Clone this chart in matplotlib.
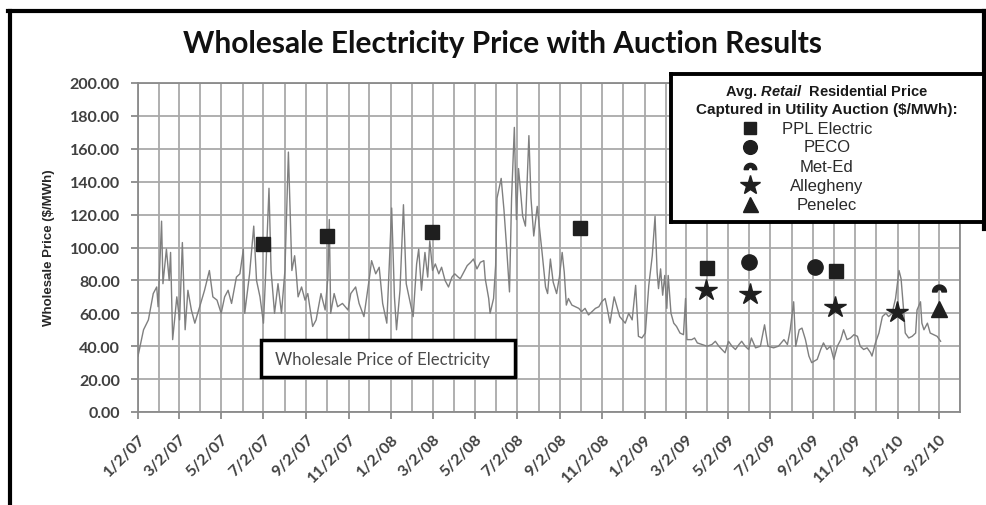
import numpy as np
import pandas as pd
import matplotlib
matplotlib.use("Agg")
import matplotlib.pyplot as plt
import matplotlib.dates as mdates
from matplotlib.patches import Rectangle
from matplotlib.lines import Line2D
from matplotlib.path import Path

plt.rcParams["mathtext.fontset"] = "custom"
plt.rcParams["mathtext.it"] = "Liberation Sans:italic:bold"
plt.rcParams["mathtext.rm"] = "Liberation Sans:bold"

# ---------------------------------------------------------------
# Wholesale electricity price ($/MWh)
# ---------------------------------------------------------------
wholesale_2007 = [
    ("2007-01-02", 34), ("2007-01-10", 50), ("2007-01-17", 56), ("2007-01-24", 72),
    ("2007-01-29", 76), ("2007-01-31", 64), ("2007-02-05", 116), ("2007-02-07", 78),
    ("2007-02-12", 99), ("2007-02-16", 80), ("2007-02-18", 97), ("2007-02-21", 44),
    ("2007-02-27", 70), ("2007-03-03", 56), ("2007-03-07", 103), ("2007-03-11", 50),
    ("2007-03-15", 74), ("2007-03-20", 62), ("2007-03-25", 54), ("2007-04-01", 64),
    ("2007-04-08", 74), ("2007-04-15", 86), ("2007-04-20", 70), ("2007-04-26", 68),
    ("2007-05-02", 60), ("2007-05-07", 70), ("2007-05-12", 74), ("2007-05-17", 66),
    ("2007-05-24", 82), ("2007-05-29", 84), ("2007-06-03", 99), ("2007-06-05", 60),
    ("2007-06-12", 84), ("2007-06-18", 113), ("2007-06-22", 80), ("2007-06-27", 70),
    ("2007-07-02", 54), ("2007-07-05", 82), ("2007-07-10", 136), ("2007-07-13", 86),
    ("2007-07-18", 60), ("2007-07-23", 78), ("2007-07-28", 60), ("2007-08-02", 86),
    ("2007-08-07", 158), ("2007-08-12", 86), ("2007-08-16", 95), ("2007-08-18", 86),
    ("2007-08-21", 70), ("2007-08-26", 76), ("2007-08-31", 68), ("2007-09-04", 72),
    ("2007-09-11", 52), ("2007-09-16", 56), ("2007-09-23", 72), ("2007-09-29", 62),
    ("2007-10-03", 82), ("2007-10-05", 117), ("2007-10-07", 60), ("2007-10-12", 72),
    ("2007-10-17", 64), ("2007-10-24", 66), ("2007-11-01", 62), ("2007-11-05", 72),
    ("2007-11-12", 76), ("2007-11-17", 66), ("2007-11-24", 58), ("2007-12-02", 82),
    ("2007-12-05", 92), ("2007-12-11", 84), ("2007-12-16", 88), ("2007-12-21", 66),
    ("2007-12-27", 54),
]
wholesale_2008 = [
    ("2008-01-03", 124), ("2008-01-07", 70), ("2008-01-10", 50), ("2008-01-15", 74),
    ("2008-01-20", 126), ("2008-01-24", 78), ("2008-01-30", 66), ("2008-02-03", 58),
    ("2008-02-08", 90), ("2008-02-11", 99), ("2008-02-15", 74), ("2008-02-20", 97),
    ("2008-02-24", 82), ("2008-02-27", 104), ("2008-03-02", 86), ("2008-03-06", 90),
    ("2008-03-11", 84), ("2008-03-15", 88), ("2008-03-20", 80), ("2008-03-25", 76),
    ("2008-03-30", 82), ("2008-04-03", 84), ("2008-04-08", 82), ("2008-04-11", 81),
    ("2008-04-16", 85), ("2008-04-21", 89), ("2008-04-26", 91), ("2008-04-30", 93),
    ("2008-05-05", 87), ("2008-05-10", 91), ("2008-05-15", 92), ("2008-05-17", 81),
    ("2008-05-22", 69), ("2008-05-24", 60), ("2008-05-29", 69), ("2008-06-01", 89),
    ("2008-06-03", 130), ("2008-06-09", 142), ("2008-06-13", 123), ("2008-06-17", 99),
    ("2008-06-21", 73), ("2008-06-24", 130), ("2008-06-28", 173), ("2008-07-01", 117),
    ("2008-07-04", 148), ("2008-07-07", 134), ("2008-07-10", 119), ("2008-07-14", 113),
    ("2008-07-19", 168), ("2008-07-22", 130), ("2008-07-26", 107), ("2008-07-31", 125),
    ("2008-08-04", 109), ("2008-08-07", 97), ("2008-08-12", 76), ("2008-08-15", 72),
    ("2008-08-19", 93), ("2008-08-23", 79), ("2008-08-28", 72), ("2008-09-01", 82),
    ("2008-09-05", 97), ("2008-09-08", 85), ("2008-09-11", 65), ("2008-09-14", 69),
    ("2008-09-19", 65), ("2008-09-24", 64), ("2008-09-29", 63), ("2008-10-03", 61),
    ("2008-10-08", 63), ("2008-10-13", 59), ("2008-10-18", 61), ("2008-10-23", 63),
    ("2008-10-28", 64), ("2008-11-01", 67), ("2008-11-06", 69), ("2008-11-09", 63),
    ("2008-11-13", 54), ("2008-11-19", 70), ("2008-11-27", 58), ("2008-12-05", 54),
    ("2008-12-10", 60), ("2008-12-15", 56), ("2008-12-20", 77), ("2008-12-24", 46),
    ("2008-12-29", 45),
]
wholesale_2009 = [
    ("2009-01-03", 48), ("2009-01-08", 77), ("2009-01-13", 95), ("2009-01-17", 119),
    ("2009-01-20", 85), ("2009-01-22", 75), ("2009-01-25", 87), ("2009-01-28", 71),
    ("2009-01-31", 83), ("2009-02-03", 63), ("2009-02-05", 83), ("2009-02-09", 60),
    ("2009-02-13", 54), ("2009-02-17", 52), ("2009-02-22", 48), ("2009-02-27", 47),
    ("2009-03-02", 69), ("2009-03-04", 44), ("2009-03-11", 44), ("2009-03-15", 45),
    ("2009-03-19", 42), ("2009-03-26", 41), ("2009-04-02", 40), ("2009-04-09", 41),
    ("2009-04-14", 43), ("2009-04-19", 40), ("2009-04-28", 36), ("2009-05-03", 43),
    ("2009-05-08", 40), ("2009-05-13", 38), ("2009-05-18", 41), ("2009-05-22", 43),
    ("2009-05-27", 40), ("2009-06-01", 38), ("2009-06-05", 45), ("2009-06-11", 39),
    ("2009-06-18", 40), ("2009-06-24", 53), ("2009-06-29", 40), ("2009-07-07", 39),
    ("2009-07-14", 40), ("2009-07-22", 44), ("2009-07-27", 41), ("2009-07-31", 50),
    ("2009-08-05", 67), ("2009-08-08", 40), ("2009-08-13", 50), ("2009-08-17", 51),
    ("2009-08-22", 44), ("2009-08-27", 34), ("2009-08-31", 30), ("2009-09-08", 32),
    ("2009-09-13", 38), ("2009-09-17", 42), ("2009-09-22", 38), ("2009-09-27", 40),
    ("2009-10-02", 32), ("2009-10-07", 40), ("2009-10-12", 44), ("2009-10-16", 50),
    ("2009-10-21", 44), ("2009-10-26", 45), ("2009-10-31", 47), ("2009-11-05", 46),
    ("2009-11-09", 40), ("2009-11-14", 38), ("2009-11-19", 39), ("2009-11-24", 36),
    ("2009-11-26", 34), ("2009-12-01", 42), ("2009-12-06", 48), ("2009-12-11", 58),
    ("2009-12-16", 60), ("2009-12-20", 58), ("2009-12-25", 60), ("2009-12-30", 69),
]
wholesale_2010 = [
    ("2010-01-04", 86), ("2010-01-07", 81), ("2010-01-11", 60), ("2010-01-13", 48),
    ("2010-01-18", 45), ("2010-01-23", 46), ("2010-01-28", 48), ("2010-01-30", 62),
    ("2010-02-04", 67), ("2010-02-06", 54), ("2010-02-09", 50), ("2010-02-14", 54),
    ("2010-02-18", 48), ("2010-02-23", 47), ("2010-02-28", 46), ("2010-03-05", 43),
]

# ---------------------------------------------------------------
# Utility auction results: avg. retail residential price ($/MWh)
# ---------------------------------------------------------------
ppl_dates = ["2007-07-02", "2007-10-02", "2008-03-01", "2008-10-01", "2009-04-02", "2009-10-05"]
ppl_prices = [102, 107, 109.5, 112, 87.5, 85.5]
peco_dates = ["2009-06-02", "2009-09-05"]
peco_prices = [91, 88]
meted_dates = ["2010-03-02"]
meted_prices = [75.5]
allegheny_dates = ["2009-04-01", "2009-06-03", "2009-10-04", "2010-01-01"]
allegheny_prices = [74, 72, 64, 61]
penelec_dates = ["2010-03-02"]
penelec_prices = [62.5]

legend_names = ["PPL Electric", "PECO", "Met-Ed", "Allegheny", "Penelec"]
y_ticks = [0, 20, 40, 60, 80, 100, 120, 140, 160, 180, 200]

# ---------------------------------------------------------------
W, H = 987, 506
fig = plt.figure(figsize=(W / 100, H / 100), dpi=100)
fig.patch.set_facecolor("white")

# Met-Ed dome marker (thick upper arch)
th = np.linspace(0, np.pi, 24)
outer = np.column_stack([np.cos(th), np.sin(th)])
inner = 0.35 * outer[::-1]
dome = np.vstack([outer, inner, outer[:1]])
dome[:, 1] -= 0.5
dome_marker = Path(dome, closed=True)

mark_style = {
    "PPL Electric": dict(marker="s", ms=10),
    "PECO": dict(marker="o", ms=11),
    "Met-Ed": dict(marker=dome_marker, ms=10),
    "Allegheny": dict(marker="*", ms=16),
    "Penelec": dict(marker="^", ms=12),
}
MK = "#1f1f1f"

ax = fig.add_axes([138 / W, 1 - 413 / H, (960 - 138) / W, (413 - 84) / H])

series = pd.DataFrame(wholesale_2007 + wholesale_2008 + wholesale_2009 + wholesale_2010,
                      columns=["date", "price"])
series["date"] = pd.to_datetime(series["date"])
ax.plot(series["date"], series["price"], color="#7f7f7f", lw=1.0, zorder=3)

auctions = [
    ("PPL Electric", ppl_dates, ppl_prices),
    ("PECO", peco_dates, peco_prices),
    ("Met-Ed", meted_dates, meted_prices),
    ("Allegheny", allegheny_dates, allegheny_prices),
    ("Penelec", penelec_dates, penelec_prices),
]
for name, d, p in auctions:
    st = mark_style[name]
    ax.plot(pd.to_datetime(d), p, ls="none", marker=st["marker"], ms=st["ms"],
            color=MK, mec=MK, mew=1, zorder=6)

ax.set_xlim(pd.Timestamp("2007-01-02"), pd.Timestamp("2010-04-02"))
ax.set_ylim(0, 200)
ax.set_yticks(y_ticks)
ax.yaxis.set_major_formatter(plt.FuncFormatter(lambda v, _: f"{v:.2f}"))

ax.xaxis.set_major_locator(mdates.MonthLocator(bymonth=[1, 3, 5, 7, 9, 11], bymonthday=2))
ax.xaxis.set_minor_locator(mdates.MonthLocator(bymonthday=2))
ax.xaxis.set_major_formatter(plt.FuncFormatter(
    lambda v, _: (lambda d: f"{d.month}/{d.day}/{d:%y}")(mdates.num2date(v))))

grid_c = "#a9a9a9"
ax.grid(True, which="both", color=grid_c, lw=1.3, zorder=1)
ax.set_axisbelow(True)
for s in ax.spines.values():
    s.set_color("#8a8a8a")
    s.set_linewidth(1.3)

ax.tick_params(axis="x", which="major", length=5, width=1.2, color="#808080", pad=9)
ax.tick_params(axis="x", which="minor", length=0)
ax.tick_params(axis="y", length=5, width=1.2, color="#808080", pad=8)
tick_font = dict(family="Lato", weight="bold", size=11.5)
for lab in ax.get_yticklabels():
    lab.set_fontproperties(tick_font)
    lab.set_color("#404040")
for lab in ax.get_xticklabels():
    lab.set_fontproperties(tick_font)
    lab.set_color("#404040")
    lab.set_rotation(45)
    lab.set_ha("right")
    lab.set_rotation_mode("anchor")

ax.set_ylabel("Wholesale Price ($/MWh)", family="Liberation Sans", weight="bold",
              size=9.5, color="#262626")
ax.yaxis.set_label_coords((55 - 138) / (960 - 138), (413 - 248) / (413 - 84))

# title
fig.text(503 / W, 1 - 44 / H, "Wholesale Electricity Price with Auction Results",
         family="Lato", weight="bold", size=21.5, color="#111111", ha="center", va="center")

# series label box
fig.add_artist(Rectangle((261 / W, 1 - 378 / H), (515 - 261) / W, (378 - 341) / H,
                         transform=fig.transFigure, facecolor="white", edgecolor="black",
                         lw=2.5, zorder=5))
fig.text(275 / W, 1 - 360 / H, "Wholesale Price of Electricity", family="Lato",
         size=12, color="#4a4a4a", ha="left", va="center", zorder=6)

# auction legend box
lg = fig.add_axes([671 / W, 1 - 223 / H, (984 - 671) / W, (223 - 75) / H], zorder=5)
lg.set_xlim(671, 984)
lg.set_ylim(223, 75)
lg.set_xticks([])
lg.set_yticks([])
for s in lg.spines.values():
    s.set_linewidth(2.8)
    s.set_color("black")
lg.text(827, 92, "Avg. $\\mathit{Retail}$  Residential Price", ha="center", va="center",
        family="Liberation Sans", weight="bold", size=10.5, color="#1a1a1a")
lg.text(827, 110, "Captured in Utility Auction ($/MWh):", ha="center", va="center",
        family="Liberation Sans", weight="bold", size=11, color="#1a1a1a")
for i, name in enumerate(legend_names):
    yy = 129 + i * 19
    st = mark_style[name]
    lg.plot([750], [yy], ls="none", marker=st["marker"], ms=st["ms"] * 0.9, color=MK, mec=MK)
    lg.text(827, yy, name, ha="center", va="center", family="Liberation Sans",
            size=12, color="#2a2a2a")

# outer frame of the screenshot
fig.add_artist(Line2D([10 / W, 10 / W], [0, 1 - 12 / H], transform=fig.transFigure,
                      color="black", lw=3))
fig.add_artist(Line2D([8 / W, 1], [1 - 12 / H, 1 - 12 / H], transform=fig.transFigure,
                      color="black", lw=3))
fig.add_artist(Line2D([984 / W, 984 / W], [1 - 12 / H, 1 - 230 / H], transform=fig.transFigure,
                      color="black", lw=3))

fig.savefig("out.png", dpi=100)
